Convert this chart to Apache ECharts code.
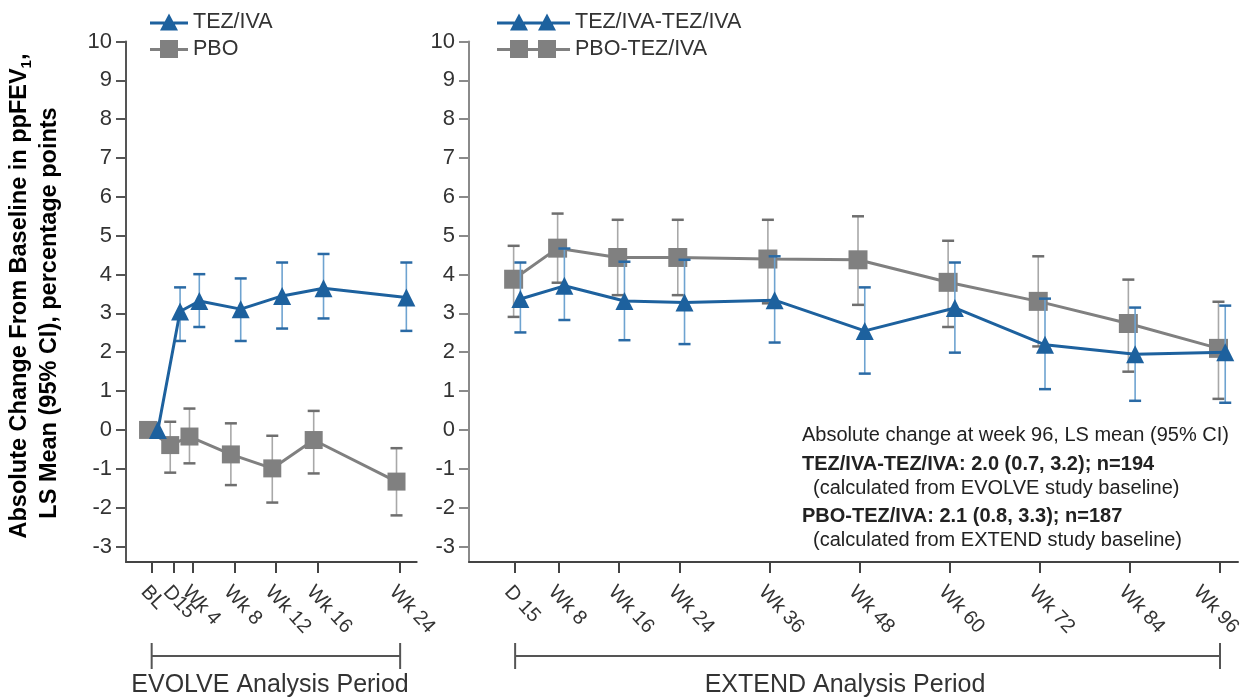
<!DOCTYPE html>
<html>
<head>
<meta charset="utf-8">
<script src="https://cdn.jsdelivr.net/npm/echarts@6/dist/echarts.min.js"></script>
<style>
  html, body { margin: 0; padding: 0; background: #fff; }
  #main { width: 1243px; height: 699px; }
</style>
</head>
<body>
<div id="main"></div>
<script>
  // EVOLVE period (weeks from baseline)
  const leftWeeks = [0, 15 / 7, 4, 8, 12, 16, 24]
  const leftLabels = ['BL', 'D15', 'Wk 4', 'Wk 8', 'Wk 12', 'Wk 16', 'Wk 24']
  const tezMean = [0, 3.05, 3.32, 3.11, 3.45, 3.65, 3.41]
  const tezLow = [null, 2.29, 2.65, 2.29, 2.61, 2.87, 2.55]
  const tezHigh = [null, 3.67, 4.01, 3.90, 4.31, 4.53, 4.31]
  const pboMean = [0, -0.39, -0.17, -0.63, -0.99, -0.26, -1.33]
  const pboLow = [null, -1.10, -0.86, -1.42, -1.87, -1.12, -2.20]
  const pboHigh = [null, 0.21, 0.55, 0.17, -0.15, 0.49, -0.47]

  // EXTEND period
  const rightWeeks = [15 / 7, 8, 16, 24, 36, 48, 60, 72, 84, 96]
  const rightLabels = ['D 15', 'Wk 8', 'Wk 16', 'Wk 24', 'Wk 36', 'Wk 48', 'Wk 60', 'Wk 72', 'Wk 84', 'Wk 96']
  const tezTezMean = [3.37, 3.71, 3.32, 3.28, 3.34, 2.55, 3.14, 2.19, 1.95, 2.0]
  const tezTezLow = [2.51, 2.83, 2.31, 2.21, 2.25, 1.45, 1.99, 1.05, 0.75, 0.7]
  const tezTezHigh = [4.31, 4.67, 4.33, 4.38, 4.47, 3.67, 4.31, 3.38, 3.15, 3.2]
  const pboTezMean = [3.88, 4.68, 4.44, 4.44, 4.40, 4.38, 3.80, 3.31, 2.74, 2.1]
  const pboTezLow = [2.91, 3.79, 3.47, 3.47, 3.26, 3.22, 2.65, 2.15, 1.50, 0.8]
  const pboTezHigh = [4.74, 5.57, 5.41, 5.41, 5.41, 5.50, 4.87, 4.47, 3.87, 3.3]

  const yTicks = [-3, -2, -1, 0, 1, 2, 3, 4, 5, 6, 7, 8, 9, 10]

  const BLUE = '#1d619e'
  const GRAY = '#808080'
  const FONT = 'Liberation Sans, Arial, sans-serif'
  const LABEL_ROT = -47

  function lineData (weeks, mean, shift) {
    return weeks.map((w, i) => [w + shift, mean[i]])
  }
  function errData (weeks, low, high, shift) {
    let out = []
    for (let i = 0; i < weeks.length; i++) {
      if (low[i] !== null) out.push([weeks[i] + shift, low[i], high[i]])
    }
    return out
  }
  function errRender (barColor, capColor) {
    return function (params, api) {
      let x = api.value(0)
      let top = api.coord([x, api.value(2)])
      let bot = api.coord([x, api.value(1)])
      let hw = 6
      return {
        type: 'group',
        children: [
          {type: 'line', shape: {x1: top[0], y1: top[1], x2: bot[0], y2: bot[1]}, style: {stroke: barColor, lineWidth: 1.6}},
          {type: 'line', shape: {x1: top[0] - hw, y1: top[1], x2: top[0] + hw, y2: top[1]}, style: {stroke: capColor, lineWidth: 2.5}},
          {type: 'line', shape: {x1: bot[0] - hw, y1: bot[1], x2: bot[0] + hw, y2: bot[1]}, style: {stroke: capColor, lineWidth: 2.5}}
        ]
      }
    }
  }
  // the last EXTEND label sits too close to the edge, it is drawn separately below
  function labelFor (weeks, labels, skipLast) {
    return function (v) {
      for (let i = 0; i < weeks.length; i++) {
        if (Math.abs(weeks[i] - v) < 1e-6) {
          if (skipLast && i === weeks.length - 1) return ''
          return labels[i]
        }
      }
      return ''
    }
  }
  function xAxisFor (grid, min, max, ticks, weeks, labels, skipLast, showLine) {
    return {
      type: 'value', gridIndex: grid, min: min, max: max, position: 'bottom', offset: 0,
      axisLine: {show: showLine, onZero: false, lineStyle: {color: '#444', width: 2}},
      splitLine: {show: false},
      axisTick: {show: true, customValues: ticks, length: 11, lineStyle: {color: '#444', width: 2}},
      axisLabel: {
        customValues: ticks, formatter: labelFor(weeks, labels, skipLast),
        showMinLabel: true, showMaxLabel: true, hideOverlap: false,
        rotate: LABEL_ROT, align: 'left', verticalAlign: 'top', margin: 20,
        fontSize: 20, color: '#333', fontFamily: FONT
      }
    }
  }
  function yAxisFor (grid, lineColor) {
    return {
      type: 'value', gridIndex: grid, min: -3.4, max: 10,
      axisLine: {show: true, onZero: false, lineStyle: {color: lineColor, width: 2}},
      splitLine: {show: false},
      axisTick: {show: true, customValues: yTicks, length: 10, lineStyle: {color: lineColor, width: 2}},
      axisLabel: {customValues: yTicks, margin: 14, fontSize: 22, color: '#333', fontFamily: FONT}
    }
  }

  // BL and D15 are too close for one axis (the second label gets dropped),
  // so the EVOLVE ticks are split over two overlaid axes on the same grid
  const leftEven = leftWeeks.filter((w, i) => i % 2 === 0)
  const leftOdd = leftWeeks.filter((w, i) => i % 2 === 1)

  const chart = echarts.init(document.getElementById('main'))
  chart.setOption({
    animation: false,
    backgroundColor: '#fff',
    grid: [
      {left: 126, top: 41.5, width: 290.7, height: 520.5, outerBoundsMode: 'none'},
      {left: 469, top: 41.5, width: 769, height: 520.5, outerBoundsMode: 'none'}
    ],
    xAxis: [
      xAxisFor(0, -2.48, 25.6, leftEven, leftWeeks, leftLabels, false, true),
      xAxisFor(1, -4, 98.4, rightWeeks, rightWeeks, rightLabels, true, true),
      xAxisFor(0, -2.48, 25.6, leftOdd, leftWeeks, leftLabels, false, false)
    ],
    yAxis: [yAxisFor(0, '#555'), yAxisFor(1, '#8a8a8a')],
    legend: [
      {
        left: 145, top: 6, orient: 'vertical', itemGap: 5, itemWidth: 38, itemHeight: 18,
        textStyle: {fontSize: 21.5, color: '#333', fontFamily: FONT},
        data: [
          {name: 'TEZ/IVA', icon: 'path://M0,8 L38,8 L38,11 L0,11 Z M19,0 L28,17 L10,17 Z'},
          {name: 'PBO', icon: 'path://M0,8 L38,8 L38,11 L0,11 Z M10,0 L28,0 L28,18 L10,18 Z'}
        ]
      },
      {
        left: 492, top: 6, orient: 'vertical', itemGap: 5, itemWidth: 73, itemHeight: 18,
        textStyle: {fontSize: 21.5, color: '#333', fontFamily: FONT},
        data: [
          {name: 'TEZ/IVA-TEZ/IVA', icon: 'path://M0,8 L73,8 L73,11 L0,11 Z M22,0 L31,17 L13,17 Z M50,0 L59,17 L41,17 Z'},
          {name: 'PBO-TEZ/IVA', icon: 'path://M0,8 L73,8 L73,11 L0,11 Z M13,0 L31,0 L31,18 L13,18 Z M41,0 L59,0 L59,18 L41,18 Z'}
        ]
      }
    ],
    series: [
      {
        type: 'custom', xAxisIndex: 0, yAxisIndex: 0, z: 2,
        renderItem: errRender('#a8a8a8', '#6e6e6e'),
        encode: {x: 0, y: [1, 2]},
        data: errData(leftWeeks, pboLow, pboHigh, -0.35)
      },
      {
        name: 'PBO', type: 'line', xAxisIndex: 0, yAxisIndex: 0, z: 3,
        symbol: 'rect', symbolSize: 18, color: GRAY,
        lineStyle: {width: 3, color: GRAY},
        data: lineData(leftWeeks, pboMean, -0.35)
      },
      {
        type: 'custom', xAxisIndex: 0, yAxisIndex: 0, z: 4,
        renderItem: errRender('#6ea3d0', '#2a6aa5'),
        encode: {x: 0, y: [1, 2]},
        data: errData(leftWeeks, tezLow, tezHigh, 0.6)
      },
      {
        name: 'TEZ/IVA', type: 'line', xAxisIndex: 0, yAxisIndex: 0, z: 5,
        symbol: 'triangle', symbolSize: 18, color: BLUE,
        lineStyle: {width: 3, color: BLUE},
        data: lineData(leftWeeks, tezMean, 0.6)
      },
      {
        type: 'custom', xAxisIndex: 1, yAxisIndex: 1, z: 2,
        renderItem: errRender('#a8a8a8', '#6e6e6e'),
        encode: {x: 0, y: [1, 2]},
        data: errData(rightWeeks, pboTezLow, pboTezHigh, -0.2)
      },
      {
        name: 'PBO-TEZ/IVA', type: 'line', xAxisIndex: 1, yAxisIndex: 1, z: 3,
        symbol: 'rect', symbolSize: 19, color: GRAY,
        lineStyle: {width: 3, color: GRAY},
        data: lineData(rightWeeks, pboTezMean, -0.2)
      },
      {
        type: 'custom', xAxisIndex: 1, yAxisIndex: 1, z: 4,
        renderItem: errRender('#6ea3d0', '#2a6aa5'),
        encode: {x: 0, y: [1, 2]},
        data: errData(rightWeeks, tezTezLow, tezTezHigh, 0.7)
      },
      {
        name: 'TEZ/IVA-TEZ/IVA', type: 'line', xAxisIndex: 1, yAxisIndex: 1, z: 5,
        symbol: 'triangle', symbolSize: 18, color: BLUE,
        lineStyle: {width: 3, color: BLUE},
        data: lineData(rightWeeks, tezTezMean, 0.7)
      }
    ]
  })

  // period brackets under the axes, placed from the axis scales
  const l0 = chart.convertToPixel({xAxisIndex: 0}, leftWeeks[0])
  const l1 = chart.convertToPixel({xAxisIndex: 0}, leftWeeks[leftWeeks.length - 1])
  const r0 = chart.convertToPixel({xAxisIndex: 1}, rightWeeks[0])
  const r1 = chart.convertToPixel({xAxisIndex: 1}, rightWeeks[rightWeeks.length - 1])
  function bracket (a, b) {
    let st = {stroke: '#555', lineWidth: 2}
    return [
      {type: 'line', shape: {x1: a, y1: 656, x2: b, y2: 656}, style: st},
      {type: 'line', shape: {x1: a, y1: 643, x2: a, y2: 669}, style: st},
      {type: 'line', shape: {x1: b, y1: 643, x2: b, y2: 669}, style: st}
    ]
  }
  function txt (x, y, text, size, weight) {
    return {
      type: 'text', x: x, y: y,
      style: {text: text, font: (weight || 'normal') + ' ' + size + 'px ' + FONT, fill: '#222', textVerticalAlign: 'middle'}
    }
  }
  function yName (x, y, text) {
    return {
      type: 'text', x: x, y: y, rotation: Math.PI / 2,
      style: {
        text: text, textAlign: 'center', textVerticalAlign: 'middle',
        rich: {
          b: {fontSize: 23.5, fontWeight: 'bold', fontFamily: FONT, color: '#222', lineHeight: 28},
          s: {fontSize: 15, fontWeight: 'bold', fontFamily: FONT, color: '#222', lineHeight: 14, verticalAlign: 'bottom'}
        }
      }
    }
  }

  chart.setOption({
    graphic: [].concat(bracket(l0, l1), bracket(r0, r1), [
      {
        type: 'text', x: 270, y: 685,
        style: {text: 'EVOLVE Analysis Period', font: '25px ' + FONT, fill: '#333', textAlign: 'center', textVerticalAlign: 'middle'}
      },
      {
        type: 'text', x: 845, y: 685,
        style: {text: 'EXTEND Analysis Period', font: '25px ' + FONT, fill: '#333', textAlign: 'center', textVerticalAlign: 'middle'}
      },
      {
        type: 'text', x: r1 - 16, y: 582, rotation: LABEL_ROT * Math.PI / 180,
        style: {text: rightLabels[rightLabels.length - 1], font: '20px ' + FONT, fill: '#333', textAlign: 'left', textVerticalAlign: 'top'}
      },
      yName(20, 296, '{b|Absolute Change From Baseline in ppFEV}{s|1}{b|,}'),
      yName(50, 313, '{b|LS Mean (95% CI), percentage points}'),
      txt(802, 435, 'Absolute change at week 96, LS mean (95% CI)', 20),
      txt(802, 464, 'TEZ/IVA-TEZ/IVA: 2.0 (0.7, 3.2); n=194', 20, 'bold'),
      txt(813, 488, '(calculated from EVOLVE study baseline)', 20),
      txt(802, 516, 'PBO-TEZ/IVA: 2.1 (0.8, 3.3); n=187', 20, 'bold'),
      txt(813, 540, '(calculated from EXTEND study baseline)', 20)
    ])
  })
</script>
</body>
</html>
